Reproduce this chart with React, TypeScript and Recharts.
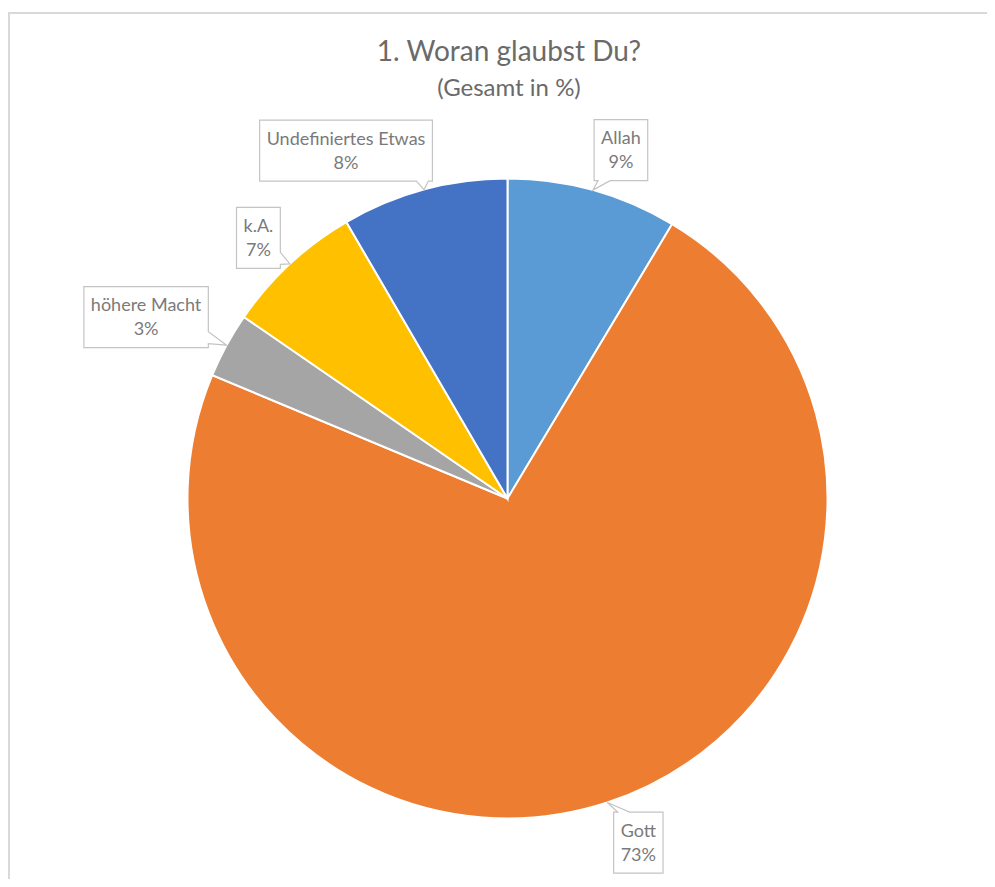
import React from 'react';
import { PieChart, Pie, Cell } from 'recharts';

const CATEGORIES = ['Allah', 'Gott', 'höhere Macht', 'k.A.', 'Undefiniertes Etwas'];
const SHARES = [8.6, 72.7, 3.3, 7.0, 8.4];
const COLORS = ['#5B9BD5', '#ED7D31', '#A5A5A5', '#FFC000', '#4472C4'];

// where each callout box sits relative to the point on the arc (box centre offset)
const CALLOUT_OFFSETS: Array<[number, number]> = [
  [28, -40],
  [31, 40],
  [-80.5, -28],
  [-31.5, -26],
  [-78, -39],
];

const LABEL_FONT = 'Lato, "Open Sans", sans-serif';
const LABEL_SIZE = 18;
const RAD = Math.PI / 180;

let measureCtx: CanvasRenderingContext2D | null = null;
function textWidth(text: string): number {
  if (!measureCtx) {
    measureCtx = document.createElement('canvas').getContext('2d');
  }
  if (!measureCtx) return text.length * LABEL_SIZE * 0.5;
  measureCtx.font = `${LABEL_SIZE}px Lato`;
  return measureCtx.measureText(text).width;
}

function calloutPath(x0: number, y0: number, x1: number, y1: number, ax: number, ay: number): string {
  const half = 6;
  const outX = ax < x0 ? x0 - ax : ax > x1 ? ax - x1 : 0;
  const outY = ay < y0 ? y0 - ay : ay > y1 ? ay - y1 : 0;
  let edge: 'top' | 'right' | 'bottom' | 'left';
  if (outY >= outX) edge = ay < y0 ? 'top' : 'bottom';
  else edge = ax < x0 ? 'left' : 'right';

  const clamp = (v: number, lo: number, hi: number) => Math.max(lo, Math.min(hi, v));
  const pts: string[] = [`M${x0},${y0}`];
  if (edge === 'top') {
    const c = clamp(ax, x0 + 10, x1 - 10);
    pts.push(`L${c - half},${y0}`, `L${ax},${ay}`, `L${c + half},${y0}`);
  }
  pts.push(`L${x1},${y0}`);
  if (edge === 'right') {
    const c = clamp(ay, y0 + 10, y1 - 10);
    pts.push(`L${x1},${c - half}`, `L${ax},${ay}`, `L${x1},${c + half}`);
  }
  pts.push(`L${x1},${y1}`);
  if (edge === 'bottom') {
    const c = clamp(ax, x0 + 10, x1 - 10);
    pts.push(`L${c + half},${y1}`, `L${ax},${ay}`, `L${c - half},${y1}`);
  }
  pts.push(`L${x0},${y1}`);
  if (edge === 'left') {
    const c = clamp(ay, y0 + 10, y1 - 10);
    pts.push(`L${x0},${c + half}`, `L${ax},${ay}`, `L${x0},${c - half}`);
  }
  pts.push('Z');
  return pts.join(' ');
}

function renderCallout(props: any) {
  const { cx, cy, midAngle, outerRadius, index, name, value } = props;
  const ax = cx + outerRadius * Math.cos(-midAngle * RAD);
  const ay = cy + outerRadius * Math.sin(-midAngle * RAD);
  const [dx, dy] = CALLOUT_OFFSETS[index] ?? [0, -40];
  const bx = ax + dx;
  const by = ay + dy;
  const pct = `${Math.round(value)}%`;
  const w = Math.max(textWidth(name), textWidth(pct)) + 14;
  const h = 61;
  const x0 = bx - w / 2;
  const y0 = by - h / 2;
  return (
    <g key={`callout-${index}`}>
      <path
        d={calloutPath(x0, y0, x0 + w, y0 + h, ax, ay)}
        fill="#ffffff"
        stroke="#c4c4c4"
        strokeWidth={1.2}
      />
      <text x={bx} y={by - 13} textAnchor="middle" dominantBaseline="central" fill="#7a7a7a" fontSize={LABEL_SIZE} fontFamily={LABEL_FONT}>
        {name}
      </text>
      <text x={bx} y={by + 11} textAnchor="middle" dominantBaseline="central" fill="#7a7a7a" fontSize={LABEL_SIZE} fontFamily={LABEL_FONT}>
        {pct}
      </text>
    </g>
  );
}

export default function App() {
  const data = CATEGORIES.map((name, i) => ({ name, value: SHARES[i] }));

  return (
    <div
      style={{
        position: 'relative',
        marginTop: 4,
        width: 987,
        height: 867,
        boxSizing: 'border-box',
        borderTop: '2px solid #d9d9d9',
        borderLeft: '2px solid #d9d9d9',
        background: '#ffffff',
        fontFamily: LABEL_FONT,
      }}
    >
      <div
        style={{
          position: 'absolute',
          left: 499,
          top: 36,
          transform: 'translate(-50%, -50%)',
          whiteSpace: 'nowrap',
          fontSize: 28,
          color: '#6a6a6a',
        }}
      >
        1. Woran glaubst Du?
      </div>
      <div
        style={{
          position: 'absolute',
          left: 499,
          top: 72,
          transform: 'translate(-50%, -50%)',
          whiteSpace: 'nowrap',
          fontSize: 24,
          color: '#6a6a6a',
        }}
      >
        (Gesamt in %)
      </div>
      <PieChart width={985} height={865} margin={{ top: 0, right: 0, bottom: 0, left: 0 }}>
        <Pie
          data={data}
          dataKey="value"
          nameKey="name"
          cx={497.5}
          cy={484.5}
          outerRadius={320}
          startAngle={90}
          endAngle={-270}
          stroke="#ffffff"
          strokeWidth={2}
          labelLine={false}
          label={renderCallout}
          isAnimationActive={false}
        >
          {data.map((d, i) => (
            <Cell key={d.name} fill={COLORS[i]} />
          ))}
        </Pie>
      </PieChart>
    </div>
  );
}
